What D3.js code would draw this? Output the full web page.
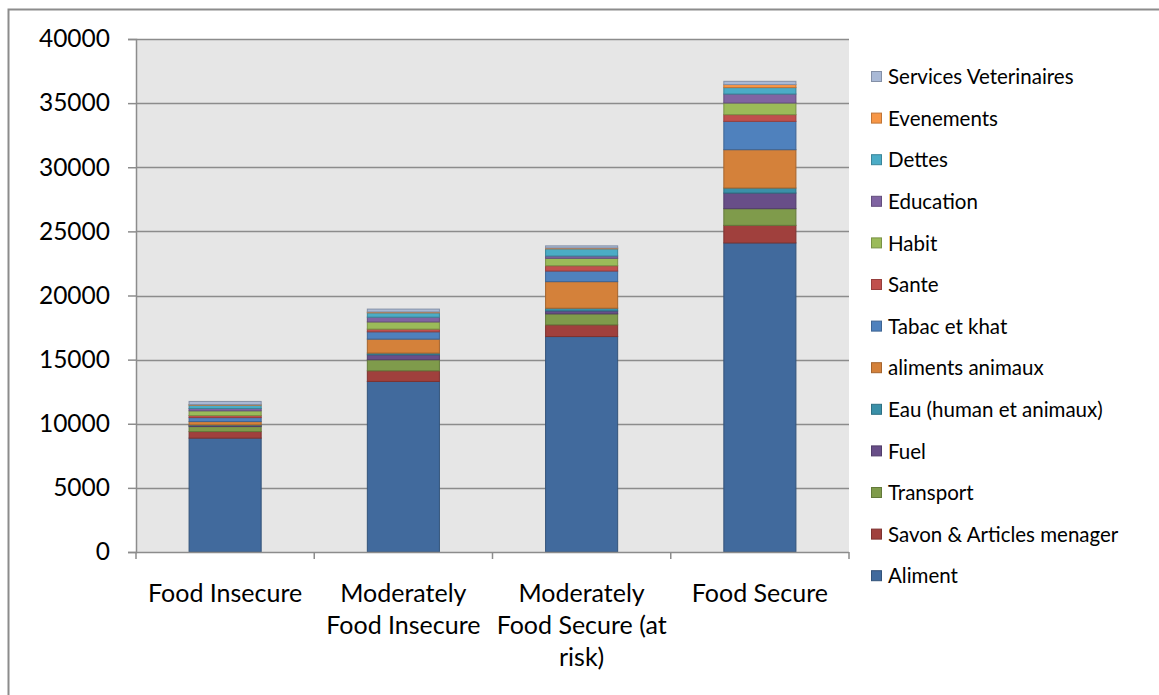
<!DOCTYPE html>
<html>
<head>
<meta charset="utf-8">
<script src="https://cdn.jsdelivr.net/npm/d3@7"></script>
<style>
  html, body { margin: 0; padding: 0; background: #fff; }
  svg { display: block; }
  text { font-family: Lato, "Open Sans", sans-serif; fill: #000; }
</style>
</head>
<body>
<svg id="chart" width="1159" height="695"></svg>
<script>
// Household expenditure groups by food security status (stacked)
const categories = ["Food Insecure", "Moderately Food Insecure", "Moderately Food Secure (at risk)", "Food Secure"];
const categoryLines = [["Food Insecure"], ["Moderately", "Food Insecure"], ["Moderately", "Food Secure (at", "risk)"], ["Food Secure"]];

const seriesNames = [
  "Aliment", "Savon & Articles menager", "Transport", "Fuel", "Eau (human et animaux)",
  "aliments animaux", "Tabac et khat", "Sante", "Habit", "Education", "Dettes",
  "Evenements", "Services Veterinaires"
];
const seriesColors = [
  "#416a9d", "#a0403d", "#7f9b4b", "#684e88", "#3a90a8",
  "#d4813a", "#4f81bd", "#c0504d", "#9bbb59", "#8064a2", "#4bacc6",
  "#f79646", "#a9b9d6"
];

// values per series, in category order
const aliment      = [8880, 13300, 16800, 24100];
const savon        = [510, 830, 910, 1370];
const transport    = [390, 860, 860, 1300];
const fuel         = [80, 390, 230, 1220];
const eau          = [50, 130, 210, 390];
const alimAnimaux  = [260, 1090, 2070, 2990];
const tabac        = [310, 570, 830, 2210];
const sante        = [160, 210, 410, 520];
const habit        = [370, 560, 580, 910];
const education    = [180, 370, 180, 700];
const dettes       = [260, 340, 560, 500];
const evenements   = [50, 70, 70, 240];
const services     = [240, 220, 160, 250];

const seriesValues = [aliment, savon, transport, fuel, eau, alimAnimaux, tabac,
  sante, habit, education, dettes, evenements, services];

const yTicks = [0, 5000, 10000, 15000, 20000, 25000, 30000, 35000, 40000];

const svg = d3.select("#chart");

// outer chart frame
svg.append("rect")
  .attr("x", 8.5).attr("y", 9.5).attr("width", 1170).attr("height", 700)
  .attr("fill", "none").attr("stroke", "#8c8c8c").attr("stroke-width", 2);

const plot = { left: 136, right: 849, top: 39, bottom: 552 };

const x = d3.scaleBand().domain(categories)
  .range([plot.left, plot.right]).paddingInner(0.59).paddingOuter(0.295);
const y = d3.scaleLinear().domain([0, 40000]).range([plot.bottom, plot.top]);

// plot background
svg.append("rect")
  .attr("x", plot.left).attr("y", plot.top)
  .attr("width", plot.right - plot.left).attr("height", plot.bottom - plot.top)
  .attr("fill", "#e6e6e6");

// horizontal gridlines
svg.append("g").selectAll("line").data(yTicks.filter(d => d > 0)).join("line")
  .attr("x1", plot.left).attr("x2", plot.right)
  .attr("y1", d => Math.round(y(d)) + 0.5).attr("y2", d => Math.round(y(d)) + 0.5)
  .attr("stroke", "#8c8c8c").attr("stroke-width", 1.5);

// y axis
const yAxis = svg.append("g").attr("transform", `translate(${plot.left},0)`)
  .call(d3.axisLeft(y).tickValues(yTicks).tickFormat(d3.format("d")).tickSize(8).tickPadding(18));
yAxis.select(".domain").attr("stroke", "#8c8c8c").attr("stroke-width", 1.5);
yAxis.selectAll(".tick line").attr("stroke", "#8c8c8c").attr("stroke-width", 1.5);
yAxis.selectAll(".tick text").attr("font-size", 24.5).attr("font-family", "Lato, sans-serif").attr("fill", "#000");

// stacked data
const table = categories.map((c, i) => {
  const row = { category: c };
  seriesNames.forEach((s, k) => { row[s] = seriesValues[k][i]; });
  return row;
});
const stacked = d3.stack().keys(seriesNames)(table);
const color = d3.scaleOrdinal().domain(seriesNames).range(seriesColors);

svg.append("g").selectAll("g").data(stacked).join("g")
  .attr("fill", d => color(d.key))
  .attr("stroke", d => d3.color(color(d.key)).darker(0.7))
  .selectAll("rect").data(d => d).join("rect")
  .attr("x", d => x(d.data.category) + 0.5)
  .attr("y", d => y(d[1]))
  .attr("width", x.bandwidth() - 1)
  .attr("height", d => Math.max(0, y(d[0]) - y(d[1])))
  .attr("stroke-width", 1);

// x axis
const xb = svg.append("g");
xb.append("line")
  .attr("x1", plot.left).attr("x2", plot.right)
  .attr("y1", plot.bottom + 0.5).attr("y2", plot.bottom + 0.5)
  .attr("stroke", "#8c8c8c").attr("stroke-width", 1.5);
const step = x.step();
const boundaries = d3.range(categories.length + 1).map(i => plot.left + i * step);
xb.selectAll("line.tk").data(boundaries).join("line").attr("class", "tk")
  .attr("x1", d => d).attr("x2", d => d)
  .attr("y1", plot.bottom).attr("y2", plot.bottom + 7)
  .attr("stroke", "#8c8c8c").attr("stroke-width", 1.5);
xb.selectAll("text").data(categories).join("text")
  .attr("text-anchor", "middle")
  .attr("font-size", 25)
  .attr("x", d => x(d) + x.bandwidth() / 2)
  .attr("y", 602)
  .each(function(d, i) {
    d3.select(this).selectAll("tspan").data(categoryLines[i]).join("tspan")
      .attr("x", x(d) + x.bandwidth() / 2)
      .attr("dy", (l, j) => j === 0 ? 0 : 32)
      .text(l => l);
  });

// legend (top entry is the last series)
const legend = svg.append("g");
const legendOrder = seriesNames.slice().reverse();
const lg = legend.selectAll("g").data(legendOrder).join("g")
  .attr("transform", (d, i) => `translate(871, ${77 + i * 41.6})`);
lg.append("rect")
  .attr("x", 0.5).attr("y", -5.5).attr("width", 10).attr("height", 10)
  .attr("fill", d => color(d))
  .attr("stroke", d => d3.color(color(d)).darker(0.7)).attr("stroke-width", 1);
lg.append("text")
  .attr("x", 17).attr("y", 0).attr("dy", "0.35em")
  .attr("font-size", 20.5)
  .text(d => d);
</script>
</body>
</html>
